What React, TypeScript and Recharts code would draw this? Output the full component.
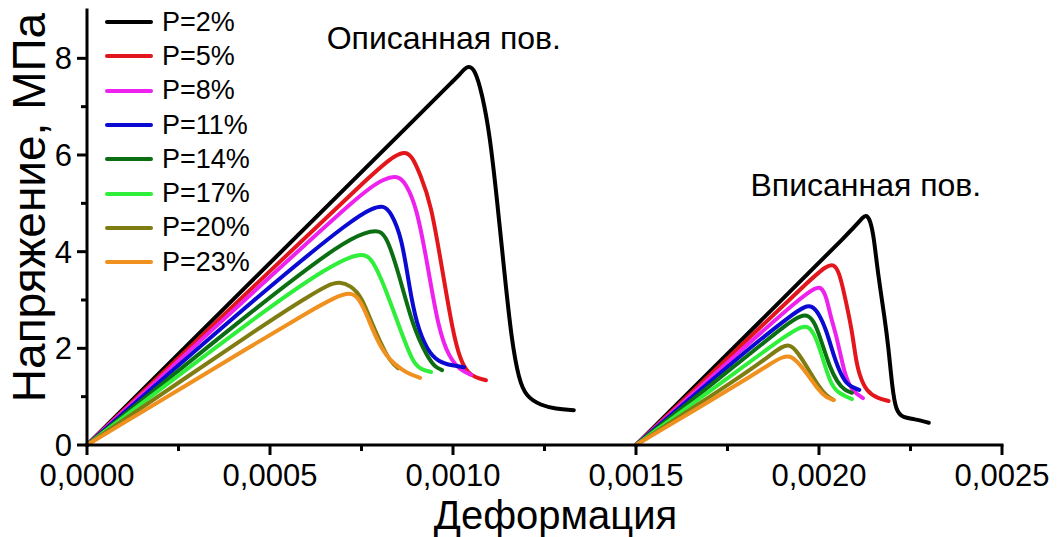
import { LineChart, Line, XAxis, YAxis, Legend, ReferenceDot } from "recharts";

type Pt = [number, number];

const FONT = '"Liberation Sans", Arial, sans-serif';

// Описанная поверхность: [деформация, напряжение МПа]
const outer2: Pt[] = [[0, 0], [0.0005, 3.77], [0.00095, 7.15], [0.001, 7.53], [0.00102, 7.68], [0.00104, 7.86], [0.00106, 7.78], [0.00108, 7.25], [0.0011, 6.45], [0.00112, 5.1], [0.00114, 3.6], [0.00116, 2.17], [0.00118, 1.35], [0.0012, 1.0], [0.00124, 0.82], [0.00128, 0.75], [0.00133, 0.72]];
const outer5: Pt[] = [[0, 0], [0.0005, 3.6], [0.0008, 5.76], [0.00084, 5.98], [0.00087, 6.08], [0.00089, 5.95], [0.00091, 5.6], [0.00094, 5.0], [0.00097, 3.65], [0.001, 2.32], [0.00102, 1.76], [0.00104, 1.5], [0.00106, 1.4], [0.00109, 1.34]];
const outer8: Pt[] = [[0, 0], [0.0005, 3.48], [0.00076, 5.28], [0.00081, 5.5], [0.00085, 5.58], [0.00087, 5.42], [0.0009, 4.95], [0.00093, 3.75], [0.00096, 2.4], [0.00099, 1.8], [0.00102, 1.55], [0.00105, 1.45]];
const outer11: Pt[] = [[0, 0], [0.0005, 3.3], [0.00073, 4.7], [0.00078, 4.9], [0.00081, 4.96], [0.00083, 4.82], [0.00086, 4.3], [0.00088, 3.3], [0.0009, 2.5], [0.00093, 1.95], [0.00096, 1.72], [0.001, 1.64], [0.00103, 1.61]];
const outer14: Pt[] = [[0, 0], [0.0005, 3.08], [0.0007, 4.2], [0.00076, 4.4], [0.0008, 4.45], [0.00082, 4.28], [0.00085, 3.6], [0.00089, 2.45], [0.00093, 1.82], [0.00095, 1.62], [0.00097, 1.55]];
const outer17: Pt[] = [[0, 0], [0.0005, 2.88], [0.00066, 3.68], [0.00072, 3.9], [0.00076, 3.96], [0.00078, 3.82], [0.00081, 3.35], [0.00086, 2.3], [0.00089, 1.72], [0.00091, 1.57], [0.00094, 1.51]];
const outer20: Pt[] = [[0, 0], [0.0005, 2.58], [0.0006, 3.05], [0.00066, 3.32], [0.00069, 3.38], [0.00072, 3.3], [0.00075, 3.08], [0.00078, 2.48], [0.00082, 1.82], [0.00084, 1.65], [0.00085, 1.59]];
const outer23: Pt[] = [[0, 0], [0.0005, 2.28], [0.0006, 2.73], [0.00068, 3.07], [0.00072, 3.16], [0.00074, 3.06], [0.00076, 2.78], [0.00079, 2.2], [0.00082, 1.82], [0.00084, 1.68], [0.00087, 1.5], [0.00091, 1.39]];

// Вписанная поверхность
const inner2: Pt[] = [[0.0015, 0], [0.00185, 2.64], [0.0021, 4.52], [0.00212, 4.72], [0.00213, 4.76], [0.00214, 4.65], [0.00215, 4.3], [0.00216, 3.6], [0.00218, 2.6], [0.00219, 2.0], [0.0022, 1.2], [0.00221, 0.7], [0.00223, 0.56], [0.00226, 0.54], [0.0023, 0.46]];
const inner5: Pt[] = [[0.0015, 0], [0.0018, 2.15], [0.00198, 3.45], [0.00202, 3.7], [0.00204, 3.75], [0.002055, 3.58], [0.00207, 3.1], [0.00209, 2.38], [0.0021, 1.8], [0.00211, 1.45], [0.00213, 1.1], [0.00216, 0.97], [0.00219, 0.91]];
const inner8: Pt[] = [[0.0015, 0], [0.0018, 2.05], [0.00195, 3.05], [0.00199, 3.25], [0.002005, 3.28], [0.00202, 3.08], [0.00203, 2.7], [0.00205, 2.2], [0.00207, 1.45], [0.00209, 1.12], [0.00212, 0.97]];
const inner11: Pt[] = [[0.0015, 0], [0.0018, 1.95], [0.00193, 2.72], [0.00196, 2.86], [0.00198, 2.89], [0.002, 2.72], [0.00202, 2.38], [0.00204, 1.85], [0.00206, 1.45], [0.00208, 1.22], [0.00211, 1.14]];
const inner14: Pt[] = [[0.0015, 0], [0.0018, 1.82], [0.00192, 2.55], [0.00195, 2.67], [0.00197, 2.7], [0.00199, 2.52], [0.002008, 2.11], [0.00203, 1.6], [0.00205, 1.3], [0.00207, 1.13], [0.00209, 1.08]];
const inner17: Pt[] = [[0.0015, 0], [0.0018, 1.66], [0.00192, 2.32], [0.00195, 2.44], [0.00197, 2.47], [0.00199, 2.27], [0.00201, 1.8], [0.00203, 1.3], [0.00205, 1.08], [0.00209, 0.95]];
const inner20: Pt[] = [[0.0015, 0], [0.0018, 1.48], [0.00187, 1.88], [0.0019, 2.04], [0.00192, 2.08], [0.00194, 1.94], [0.00197, 1.58], [0.002, 1.2], [0.00202, 1.02], [0.00204, 0.93]];
const inner23: Pt[] = [[0.0015, 0], [0.0018, 1.35], [0.00187, 1.7], [0.0019, 1.82], [0.00192, 1.85], [0.00194, 1.74], [0.00197, 1.45], [0.002, 1.12], [0.00202, 0.98], [0.00204, 0.93]];

const porosity = ["P=2%", "P=5%", "P=8%", "P=11%", "P=14%", "P=17%", "P=20%", "P=23%"];
const colors = ["#000000", "#e3161c", "#ee22ee", "#0a0ad2", "#0b6e12", "#2fef3a", "#7f7d12", "#f0901f"];
const outerCurves = [outer2, outer5, outer8, outer11, outer14, outer17, outer20, outer23];
const innerCurves = [inner2, inner5, inner8, inner11, inner14, inner17, inner20, inner23];

const xTicks = [0, 0.00025, 0.0005, 0.00075, 0.001, 0.00125, 0.0015, 0.00175, 0.002, 0.00225, 0.0025];
const yTicks = [0, 1, 2, 3, 4, 5, 6, 7, 8];

// both branches go into one line per P, split by a null point
const series = porosity.map((name, i) => ({
  name,
  color: colors[i],
  data: [
    ...outerCurves[i].map(([x, y]) => ({ x, y })),
    { x: 0.0014, y: null },
    ...innerCurves[i].map(([x, y]) => ({ x, y })),
  ],
}));

const fmtX = (v: number) => v.toFixed(4).replace(".", ",");

const XTick = ({ x, y, payload }: any) => {
  const major = Math.round(payload.value / 0.00025) % 2 === 0;
  return (
    <g>
      <line x1={x} x2={x} y1={y} y2={y + (major ? 10 : 6)} stroke="#000" strokeWidth={3} />
      {major && (
        <text x={x} y={y + 41} textAnchor="middle" fontSize={31} fill="#000" fontFamily={FONT}>
          {fmtX(payload.value)}
        </text>
      )}
    </g>
  );
};

const YTick = ({ x, y, payload }: any) => {
  const major = payload.value % 2 === 0;
  return (
    <g>
      <line x1={x - (major ? 10 : 6)} x2={x} y1={y} y2={y} stroke="#000" strokeWidth={3} />
      {major && (
        <text x={x - 15} y={y + 11} textAnchor="end" fontSize={31} fill="#000" fontFamily={FONT}>
          {payload.value}
        </text>
      )}
    </g>
  );
};

// legend keeps the order of the porosity list
const renderLegend = ({ payload }: any) => {
  const items = [...payload].sort(
    (a: any, b: any) => porosity.indexOf(a.value) - porosity.indexOf(b.value)
  );
  return (
    <div style={{ fontFamily: FONT, fontSize: 27, color: "#000" }}>
      {items.map((entry: any) => (
        <div key={entry.value} style={{ display: "flex", alignItems: "center", height: 34.3 }}>
          <div style={{ width: 48, height: 4, borderRadius: 2, background: entry.color }} />
          <span style={{ marginLeft: 9, lineHeight: 1 }}>{entry.value}</span>
        </div>
      ))}
    </div>
  );
};

export default function App() {
  return (
    <div style={{ position: "absolute", left: 0, top: 0, background: "#fff" }}>
      <LineChart
        width={1059}
        height={537}
        margin={{ top: 10, right: 57, left: 8, bottom: 0 }}
        style={{ fontFamily: FONT }}
      >
        <XAxis
          type="number"
          dataKey="x"
          domain={[0, 0.0025]}
          ticks={xTicks}
          interval={0}
          height={92}
          tickSize={0}
          tickMargin={0}
          tickLine={false}
          tick={<XTick />}
          axisLine={{ stroke: "#000", strokeWidth: 3, strokeLinecap: "square" }}
          label={{
            content: ({ viewBox }: any) => (
              <text
                x={viewBox.x + viewBox.width / 2 + 11}
                y={viewBox.y + 84}
                textAnchor="middle"
                fontSize={40}
                fill="#000"
                fontFamily={FONT}
              >
                Деформация
              </text>
            ),
          }}
        />
        <YAxis
          type="number"
          domain={[0, 9]}
          ticks={yTicks}
          interval={0}
          width={79}
          tickSize={0}
          tickMargin={0}
          tickLine={false}
          tick={<YTick />}
          axisLine={{ stroke: "#000", strokeWidth: 3, strokeLinecap: "square" }}
          label={{
            content: ({ viewBox }: any) => {
              const cx = viewBox.x + 37;
              const cy = viewBox.y + viewBox.height / 2 - 20;
              return (
                <text
                  x={cx}
                  y={cy}
                  transform={`rotate(-90 ${cx} ${cy})`}
                  textAnchor="middle"
                  fontSize={46}
                  fill="#000"
                  fontFamily={FONT}
                >
                  Напряжение, МПа
                </text>
              );
            },
          }}
        />
        <Legend
          layout="vertical"
          align="center"
          verticalAlign="middle"
          content={renderLegend}
          wrapperStyle={{ left: 105, top: 5, width: "auto" }}
        />
        {series.map((s) => (
          <Line
            key={s.name}
            name={s.name}
            data={s.data}
            dataKey="y"
            type="basis"
            stroke={s.color}
            strokeWidth={4}
            strokeLinejoin="round"
            strokeLinecap="round"
            dot={false}
            activeDot={false}
            connectNulls={false}
            isAnimationActive={false}
          />
        ))}
        <ReferenceDot
          x={0.000975}
          y={8.42}
          r={0}
          fill="none"
          stroke="none"
          label={{ value: "Описанная пов.", position: "center", fontSize: 32, fill: "#000", fontFamily: FONT }}
        />
        <ReferenceDot
          x={0.002128}
          y={5.38}
          r={0}
          fill="none"
          stroke="none"
          label={{ value: "Вписанная пов.", position: "center", fontSize: 32, fill: "#000", fontFamily: FONT }}
        />
      </LineChart>
    </div>
  );
}
